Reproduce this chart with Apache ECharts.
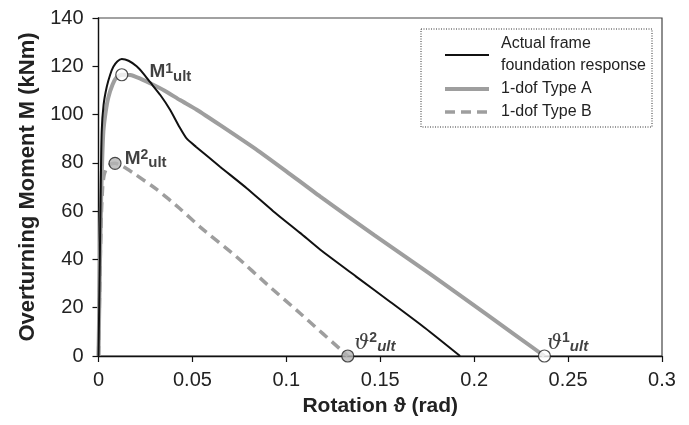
<!DOCTYPE html>
<html>
<head>
<meta charset="utf-8">
<script src="https://cdn.jsdelivr.net/npm/echarts@6/dist/echarts.min.js"></script>
<style>html,body{margin:0;padding:0;background:#fff;}#c{width:689px;height:425px;}</style>
</head>
<body>
<div id="c"></div>
<script>
// ---- data ----
var actualX = [0, 0.0007, 0.0012, 0.0017, 0.0027, 0.0044, 0.0062, 0.0079, 0.0100, 0.0124, 0.0160, 0.0203, 0.0239, 0.0274, 0.0330, 0.0381, 0.0430, 0.0470, 0.0520, 0.0647, 0.0789, 0.0930, 0.1073, 0.1181, 0.1370, 0.1552, 0.1740, 0.1925];
var actualM = [0, 40, 70, 93, 104, 111.5, 116.5, 119.8, 122, 123, 122.3, 120, 117, 113.5, 108, 102, 95, 90, 86.6, 78.4, 69.5, 60, 51, 44, 33, 22.5, 11.5, 0];
var typeAX = [0, 0.0008, 0.0014, 0.0020, 0.0026, 0.0038, 0.0052, 0.0075, 0.0097, 0.0124, 0.0168, 0.0220, 0.0274, 0.0350, 0.0434, 0.0523, 0.0650, 0.0850, 0.1000, 0.1181, 0.1470, 0.1765, 0.2070, 0.2374];
var typeAM = [0, 40, 65, 82, 93, 101, 107, 112.5, 115.5, 116.5, 116.4, 115, 113, 110, 106, 102, 95.5, 85, 76.5, 66, 50, 34, 17, 0];
var typeBX = [0, 0.0008, 0.0015, 0.0022, 0.0030, 0.0044, 0.0065, 0.0088, 0.0132, 0.0200, 0.0310, 0.0434, 0.0540, 0.0736, 0.0900, 0.1073, 0.1327];
var typeBM = [0, 35, 58, 70, 75, 78, 79.5, 79.8, 78.4, 75, 69, 61, 53.5, 41, 29.5, 17.7, 0];
var markerX = [0.0124, 0.0088, 0.1327, 0.2374];
var markerM = [116.5, 79.8, 0, 0];
var markerFill = ['#ffffff', '#b4b4b4', '#b4b4b4', '#ffffff'];
var markerText = ['{m|M}{sup|1}{sub|ult}', '{m|M}{sup|2}{sub|ult}', '{th|\u03D1}{tsup|2}{tsub|ult}', '{th|\u03D1}{tsup|1}{tsub|ult}'];
var seriesNames = ['Actual frame\nfoundation response', '1-dof Type A', '1-dof Type B'];
var xTicks = {min: 0, max: 0.3, interval: 0.05};
var yTicks = {min: 0, max: 140, interval: 20};

function pairs(xs, ys) { return xs.map(function (x, i) { return [x, ys[i]]; }); }

var FONT = 'Liberation Sans, Arial, sans-serif';
var GRAY = '#9e9e9e';
var lineStyles = [
  {color: '#111', width: 2},
  {color: GRAY, width: 4},
  {color: GRAY, width: 3.5, type: [10, 6]}
];
var labelOffsets = [[21, -3], [3, -5], [0, -12], [-4, -12]];
var rich = {
  m: {fontSize: 19, fontWeight: 'bold', lineHeight: 19, fontFamily: FONT, color: '#111'},
  sup: {fontSize: 14, fontWeight: 'bold', lineHeight: 14, padding: [0, 0, 6, 0], fontFamily: FONT, color: '#111'},
  sub: {fontSize: 15, fontWeight: 'bold', lineHeight: 15, padding: [10, 0, 0, 0], fontFamily: FONT, color: '#111'},
  th: {fontSize: 21, fontStyle: 'italic', lineHeight: 21, fontFamily: 'DejaVu Serif', color: '#111'},
  tsup: {fontSize: 14, fontWeight: 'bold', lineHeight: 14, padding: [0, 0, 12, 0], fontFamily: FONT, color: '#111'},
  tsub: {fontSize: 15, fontWeight: 'bold', fontStyle: 'italic', lineHeight: 15, padding: [6, 0, 0, 0], fontFamily: FONT, color: '#111'}
};

var markerData = markerX.map(function (x, i) {
  return {
    value: [x, markerM[i]],
    itemStyle: {color: markerFill[i]},
    label: {show: true, position: 'right', distance: 0, offset: labelOffsets[i], formatter: markerText[i], rich: rich}
  };
});

var chart = echarts.init(document.getElementById('c'), null, {renderer: 'canvas'});
chart.setOption({
  animation: false,
  backgroundColor: '#ffffff',
  textStyle: {fontFamily: FONT},
  grid: {left: 98.5, right: 27, top: 18, bottom: 69, show: true, borderColor: '#444', borderWidth: 1.2, backgroundColor: 'transparent'},
  legend: {
    data: seriesNames.map(function (n, i) { return {name: n, lineStyle: lineStyles[i]}; }),
    left: 443, top: 33, orient: 'vertical', padding: 0, itemGap: 1,
    itemWidth: 44, itemHeight: 14,
    itemStyle: {color: 'rgba(0,0,0,0)', borderWidth: 0, opacity: 0},
    textStyle: {fontSize: 16, lineHeight: 22, color: '#222', fontFamily: FONT, padding: [0, 0, 0, 7]}
  },
  graphic: [{
    type: 'rect', z: 10, silent: true,
    shape: {x: 421, y: 29, width: 231, height: 98},
    style: {fill: 'none', stroke: '#333', lineWidth: 1, lineDash: [1, 1.5]}
  }],
  xAxis: {
    type: 'value', min: xTicks.min, max: xTicks.max, interval: xTicks.interval,
    name: 'Rotation \u03D1 (rad)', nameLocation: 'middle', nameGap: 40,
    nameTextStyle: {fontSize: 21, fontWeight: 'bold', color: '#222', fontFamily: FONT},
    axisLine: {show: true, lineStyle: {color: '#111', width: 1.3}},
    axisTick: {show: true, inside: false, length: 6, lineStyle: {color: '#111', width: 1.2}},
    axisLabel: {fontSize: 20, color: '#222', margin: 14, fontFamily: FONT},
    splitLine: {show: false}
  },
  yAxis: {
    type: 'value', min: yTicks.min, max: yTicks.max, interval: yTicks.interval,
    name: 'Overturning Moment M (kNm)', nameLocation: 'middle', nameGap: 60,
    nameTextStyle: {fontSize: 22, fontWeight: 'bold', color: '#222', fontFamily: FONT},
    axisLine: {show: true, lineStyle: {color: '#111', width: 1.3}},
    axisTick: {show: true, inside: false, length: 6, lineStyle: {color: '#111', width: 1.2}},
    axisLabel: {fontSize: 20, color: '#222', margin: 15, fontFamily: FONT},
    splitLine: {show: false}
  },
  series: [
    {name: seriesNames[0], type: 'line', data: pairs(actualX, actualM), symbol: 'none', smooth: 0.2, z: 3,
     lineStyle: lineStyles[0], itemStyle: {color: '#111'}},
    {name: seriesNames[1], type: 'line', data: pairs(typeAX, typeAM), symbol: 'none', smooth: 0.2, z: 2,
     lineStyle: lineStyles[1], itemStyle: {color: GRAY}},
    {name: seriesNames[2], type: 'line', data: pairs(typeBX, typeBM), symbol: 'none', smooth: 0.2, z: 2,
     lineStyle: lineStyles[2], itemStyle: {color: GRAY}},
    {name: 'markers', type: 'scatter', data: markerData, symbol: 'circle', symbolSize: 12, z: 5,
     itemStyle: {borderColor: '#222', borderWidth: 1.2}}
  ]
});
</script>
</body>
</html>
